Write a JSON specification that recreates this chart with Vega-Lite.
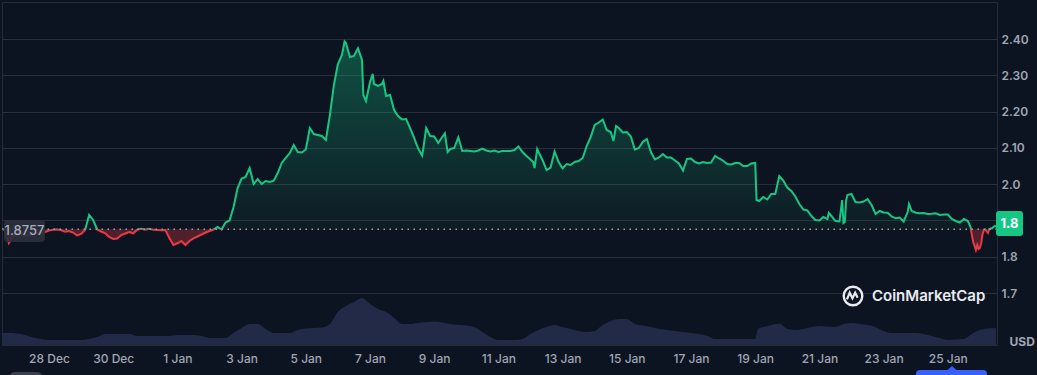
{
  "$schema": "https://vega.github.io/schema/vega-lite/v6.json",
  "width": 995,
  "height": 343,
  "autosize": {"type": "none"},
  "padding": {"left": 2, "top": 2, "right": 40, "bottom": 30},
  "background": "#0d1421",
  "config": {
    "font": "Inter",
    "view": {"stroke": "#262b36", "strokeWidth": 1},
    "axisX": {"labelColor": "#a0a6b4", "labelFontSize": 12, "labelFontWeight": 500, "labelPadding": 8, "domain": false, "ticks": false, "grid": false, "labelFont": "Inter"},
    "axisY": {"labelColor": "#a0a6b4", "labelFontSize": 12, "labelFontWeight": 600, "labelPadding": 4, "domain": false, "ticks": false, "gridColor": "#2a2e39", "gridWidth": 1, "labelFont": "Inter"}
  },
  "datasets": {
    "price": [
      {"date": "2025-12-26T12:00", "price": 1.8778}, {"date": "2025-12-26T15:00", "price": 1.8736}, {"date": "2025-12-26T18:00", "price": 1.8378}, {"date": "2025-12-26T21:00", "price": 1.8571},
      {"date": "2025-12-27T00:00", "price": 1.8598}, {"date": "2025-12-27T03:00", "price": 1.8626}, {"date": "2025-12-27T06:00", "price": 1.8571}, {"date": "2025-12-27T09:00", "price": 1.8598}, {"date": "2025-12-27T12:00", "price": 1.8654}, {"date": "2025-12-27T15:00", "price": 1.8626}, {"date": "2025-12-27T18:00", "price": 1.8654}, {"date": "2025-12-27T21:00", "price": 1.8681},
      {"date": "2025-12-28T00:00", "price": 1.8722}, {"date": "2025-12-28T03:00", "price": 1.8745}, {"date": "2025-12-28T06:00", "price": 1.8748}, {"date": "2025-12-28T09:00", "price": 1.8736}, {"date": "2025-12-28T12:00", "price": 1.8689}, {"date": "2025-12-28T15:00", "price": 1.8709}, {"date": "2025-12-28T18:00", "price": 1.8667}, {"date": "2025-12-28T21:00", "price": 1.8585},
      {"date": "2025-12-29T00:00", "price": 1.8626}, {"date": "2025-12-29T03:00", "price": 1.8736}, {"date": "2025-12-29T06:00", "price": 1.9150}, {"date": "2025-12-29T09:00", "price": 1.9012}, {"date": "2025-12-29T12:00", "price": 1.8750}, {"date": "2025-12-29T15:00", "price": 1.8695}, {"date": "2025-12-29T18:00", "price": 1.8645}, {"date": "2025-12-29T21:00", "price": 1.8543},
      {"date": "2025-12-30T00:00", "price": 1.8488}, {"date": "2025-12-30T03:00", "price": 1.8502}, {"date": "2025-12-30T06:00", "price": 1.8598}, {"date": "2025-12-30T09:00", "price": 1.8640}, {"date": "2025-12-30T12:00", "price": 1.8681}, {"date": "2025-12-30T15:00", "price": 1.8645}, {"date": "2025-12-30T18:00", "price": 1.8745}, {"date": "2025-12-30T21:00", "price": 1.8770},
      {"date": "2025-12-31T00:00", "price": 1.8745}, {"date": "2025-12-31T03:00", "price": 1.8772}, {"date": "2025-12-31T06:00", "price": 1.8740}, {"date": "2025-12-31T09:00", "price": 1.8736}, {"date": "2025-12-31T12:00", "price": 1.8730}, {"date": "2025-12-31T15:00", "price": 1.8736}, {"date": "2025-12-31T18:00", "price": 1.8516}, {"date": "2025-12-31T21:00", "price": 1.8323},
      {"date": "2026-01-01T00:00", "price": 1.8370}, {"date": "2026-01-01T03:00", "price": 1.8433}, {"date": "2026-01-01T06:00", "price": 1.8323}, {"date": "2026-01-01T09:00", "price": 1.8433}, {"date": "2026-01-01T12:00", "price": 1.8507}, {"date": "2026-01-01T15:00", "price": 1.8557}, {"date": "2026-01-01T18:00", "price": 1.8612}, {"date": "2026-01-01T21:00", "price": 1.8667},
      {"date": "2026-01-02T00:00", "price": 1.8709}, {"date": "2026-01-02T03:00", "price": 1.8750}, {"date": "2026-01-02T06:00", "price": 1.8819}, {"date": "2026-01-02T09:00", "price": 1.8750}, {"date": "2026-01-02T12:00", "price": 1.8943}, {"date": "2026-01-02T15:00", "price": 1.8998}, {"date": "2026-01-02T18:00", "price": 1.9370}, {"date": "2026-01-02T21:00", "price": 1.9894},
      {"date": "2026-01-03T00:00", "price": 2.0156}, {"date": "2026-01-03T03:00", "price": 2.0197}, {"date": "2026-01-03T06:00", "price": 2.0445}, {"date": "2026-01-03T09:00", "price": 2.0004}, {"date": "2026-01-03T12:00", "price": 2.0142}, {"date": "2026-01-03T15:00", "price": 2.0004}, {"date": "2026-01-03T18:00", "price": 2.0087}, {"date": "2026-01-03T21:00", "price": 2.0059},
      {"date": "2026-01-04T00:00", "price": 2.0095}, {"date": "2026-01-04T03:00", "price": 2.0307}, {"date": "2026-01-04T06:00", "price": 2.0583}, {"date": "2026-01-04T09:00", "price": 2.0721}, {"date": "2026-01-04T12:00", "price": 2.0858}, {"date": "2026-01-04T15:00", "price": 2.1079}, {"date": "2026-01-04T18:00", "price": 2.0886}, {"date": "2026-01-04T21:00", "price": 2.0872},
      {"date": "2026-01-05T00:00", "price": 2.0955}, {"date": "2026-01-05T03:00", "price": 2.1547}, {"date": "2026-01-05T06:00", "price": 2.1382}, {"date": "2026-01-05T09:00", "price": 2.1354}, {"date": "2026-01-05T12:00", "price": 2.1327}, {"date": "2026-01-05T15:00", "price": 2.1217}, {"date": "2026-01-05T18:00", "price": 2.1906}, {"date": "2026-01-05T21:00", "price": 2.2732},
      {"date": "2026-01-06T00:00", "price": 2.3311}, {"date": "2026-01-06T03:00", "price": 2.3559}, {"date": "2026-01-06T05:00", "price": 2.3931}, {"date": "2026-01-06T06:00", "price": 2.3890}, {"date": "2026-01-06T09:00", "price": 2.3504}, {"date": "2026-01-06T12:00", "price": 2.3532}, {"date": "2026-01-06T15:00", "price": 2.3744}, {"date": "2026-01-06T18:00", "price": 2.3421}, {"date": "2026-01-06T19:00", "price": 2.2457}, {"date": "2026-01-06T21:00", "price": 2.2291},
      {"date": "2026-01-07T00:00", "price": 2.2815}, {"date": "2026-01-07T02:00", "price": 2.3036}, {"date": "2026-01-07T03:00", "price": 2.2760}, {"date": "2026-01-07T06:00", "price": 2.2705}, {"date": "2026-01-07T09:00", "price": 2.2760}, {"date": "2026-01-07T10:00", "price": 2.2843}, {"date": "2026-01-07T12:00", "price": 2.2429}, {"date": "2026-01-07T15:00", "price": 2.2457}, {"date": "2026-01-07T18:00", "price": 2.2043}, {"date": "2026-01-07T21:00", "price": 2.1878},
      {"date": "2026-01-08T00:00", "price": 2.1782}, {"date": "2026-01-08T03:00", "price": 2.1795}, {"date": "2026-01-08T06:00", "price": 2.1547}, {"date": "2026-01-08T09:00", "price": 2.1272}, {"date": "2026-01-08T12:00", "price": 2.0982}, {"date": "2026-01-08T15:00", "price": 2.0789}, {"date": "2026-01-08T16:00", "price": 2.1024}, {"date": "2026-01-08T18:00", "price": 2.1547}, {"date": "2026-01-08T21:00", "price": 2.1327},
      {"date": "2026-01-09T00:00", "price": 2.1313}, {"date": "2026-01-09T03:00", "price": 2.1134}, {"date": "2026-01-09T06:00", "price": 2.1299}, {"date": "2026-01-09T08:00", "price": 2.1401}, {"date": "2026-01-09T10:00", "price": 2.0886}, {"date": "2026-01-09T12:00", "price": 2.0969}, {"date": "2026-01-09T15:00", "price": 2.0996}, {"date": "2026-01-09T18:00", "price": 2.1286}, {"date": "2026-01-09T21:00", "price": 2.0913},
      {"date": "2026-01-10T00:00", "price": 2.0927}, {"date": "2026-01-10T03:00", "price": 2.0913}, {"date": "2026-01-10T06:00", "price": 2.0900}, {"date": "2026-01-10T09:00", "price": 2.0927}, {"date": "2026-01-10T12:00", "price": 2.0982}, {"date": "2026-01-10T15:00", "price": 2.0927}, {"date": "2026-01-10T18:00", "price": 2.0900}, {"date": "2026-01-10T21:00", "price": 2.0927},
      {"date": "2026-01-11T00:00", "price": 2.0886}, {"date": "2026-01-11T03:00", "price": 2.0913}, {"date": "2026-01-11T06:00", "price": 2.0913}, {"date": "2026-01-11T09:00", "price": 2.0913}, {"date": "2026-01-11T12:00", "price": 2.0941}, {"date": "2026-01-11T15:00", "price": 2.1038}, {"date": "2026-01-11T18:00", "price": 2.0886}, {"date": "2026-01-11T21:00", "price": 2.0776},
      {"date": "2026-01-12T00:00", "price": 2.0679}, {"date": "2026-01-12T02:00", "price": 2.0610}, {"date": "2026-01-12T03:00", "price": 2.0445}, {"date": "2026-01-12T05:00", "price": 2.0969}, {"date": "2026-01-12T06:00", "price": 2.0886}, {"date": "2026-01-12T09:00", "price": 2.0665}, {"date": "2026-01-12T12:00", "price": 2.0390}, {"date": "2026-01-12T15:00", "price": 2.0459}, {"date": "2026-01-12T18:00", "price": 2.0900}, {"date": "2026-01-12T21:00", "price": 2.0610},
      {"date": "2026-01-13T00:00", "price": 2.0437}, {"date": "2026-01-13T03:00", "price": 2.0555}, {"date": "2026-01-13T06:00", "price": 2.0528}, {"date": "2026-01-13T09:00", "price": 2.0610}, {"date": "2026-01-13T12:00", "price": 2.0638}, {"date": "2026-01-13T15:00", "price": 2.0721}, {"date": "2026-01-13T18:00", "price": 2.1051}, {"date": "2026-01-13T21:00", "price": 2.1299},
      {"date": "2026-01-14T00:00", "price": 2.1630}, {"date": "2026-01-14T03:00", "price": 2.1699}, {"date": "2026-01-14T06:00", "price": 2.1782}, {"date": "2026-01-14T09:00", "price": 2.1492}, {"date": "2026-01-14T12:00", "price": 2.1437}, {"date": "2026-01-14T14:00", "price": 2.1189}, {"date": "2026-01-14T16:00", "price": 2.1602}, {"date": "2026-01-14T18:00", "price": 2.1547}, {"date": "2026-01-14T21:00", "price": 2.1423},
      {"date": "2026-01-15T00:00", "price": 2.1437}, {"date": "2026-01-15T03:00", "price": 2.1313}, {"date": "2026-01-15T06:00", "price": 2.0955}, {"date": "2026-01-15T09:00", "price": 2.0996}, {"date": "2026-01-15T12:00", "price": 2.1167}, {"date": "2026-01-15T15:00", "price": 2.1244}, {"date": "2026-01-15T18:00", "price": 2.0886}, {"date": "2026-01-15T21:00", "price": 2.0679},
      {"date": "2026-01-16T00:00", "price": 2.0734}, {"date": "2026-01-16T03:00", "price": 2.0831}, {"date": "2026-01-16T06:00", "price": 2.0734}, {"date": "2026-01-16T09:00", "price": 2.0734}, {"date": "2026-01-16T12:00", "price": 2.0652}, {"date": "2026-01-16T15:00", "price": 2.0569}, {"date": "2026-01-16T18:00", "price": 2.0376}, {"date": "2026-01-16T21:00", "price": 2.0693},
      {"date": "2026-01-17T00:00", "price": 2.0707}, {"date": "2026-01-17T03:00", "price": 2.0610}, {"date": "2026-01-17T06:00", "price": 2.0569}, {"date": "2026-01-17T09:00", "price": 2.0610}, {"date": "2026-01-17T12:00", "price": 2.0583}, {"date": "2026-01-17T15:00", "price": 2.0597}, {"date": "2026-01-17T18:00", "price": 2.0776}, {"date": "2026-01-17T21:00", "price": 2.0707},
      {"date": "2026-01-18T00:00", "price": 2.0646}, {"date": "2026-01-18T03:00", "price": 2.0555}, {"date": "2026-01-18T06:00", "price": 2.0541}, {"date": "2026-01-18T09:00", "price": 2.0583}, {"date": "2026-01-18T12:00", "price": 2.0583}, {"date": "2026-01-18T15:00", "price": 2.0500}, {"date": "2026-01-18T18:00", "price": 2.0500}, {"date": "2026-01-18T21:00", "price": 2.0569},
      {"date": "2026-01-19T00:00", "price": 2.0583}, {"date": "2026-01-19T01:00", "price": 1.9563}, {"date": "2026-01-19T03:00", "price": 1.9535}, {"date": "2026-01-19T06:00", "price": 1.9646}, {"date": "2026-01-19T09:00", "price": 1.9577}, {"date": "2026-01-19T12:00", "price": 1.9728}, {"date": "2026-01-19T15:00", "price": 1.9728}, {"date": "2026-01-19T18:00", "price": 2.0224}, {"date": "2026-01-19T21:00", "price": 2.0100},
      {"date": "2026-01-20T00:00", "price": 1.9908}, {"date": "2026-01-20T03:00", "price": 1.9811}, {"date": "2026-01-20T06:00", "price": 1.9660}, {"date": "2026-01-20T09:00", "price": 1.9453}, {"date": "2026-01-20T12:00", "price": 1.9301}, {"date": "2026-01-20T15:00", "price": 1.9274}, {"date": "2026-01-20T18:00", "price": 1.9122}, {"date": "2026-01-20T21:00", "price": 1.9012},
      {"date": "2026-01-21T00:00", "price": 1.8998}, {"date": "2026-01-21T03:00", "price": 1.9095}, {"date": "2026-01-21T06:00", "price": 1.9039}, {"date": "2026-01-21T07:00", "price": 1.9205}, {"date": "2026-01-21T09:00", "price": 1.9122}, {"date": "2026-01-21T12:00", "price": 1.8984}, {"date": "2026-01-21T15:00", "price": 1.8971}, {"date": "2026-01-21T17:00", "price": 1.9563}, {"date": "2026-01-21T18:00", "price": 1.8929}, {"date": "2026-01-21T19:00", "price": 1.8957}, {"date": "2026-01-21T20:00", "price": 1.9563}, {"date": "2026-01-21T21:00", "price": 1.9701},
      {"date": "2026-01-22T00:00", "price": 1.9728}, {"date": "2026-01-22T03:00", "price": 1.9508}, {"date": "2026-01-22T06:00", "price": 1.9494}, {"date": "2026-01-22T09:00", "price": 1.9522}, {"date": "2026-01-22T12:00", "price": 1.9591}, {"date": "2026-01-22T15:00", "price": 1.9425}, {"date": "2026-01-22T18:00", "price": 1.9177}, {"date": "2026-01-22T21:00", "price": 1.9260},
      {"date": "2026-01-23T00:00", "price": 1.9219}, {"date": "2026-01-23T03:00", "price": 1.9213}, {"date": "2026-01-23T06:00", "price": 1.9108}, {"date": "2026-01-23T09:00", "price": 1.9059}, {"date": "2026-01-23T12:00", "price": 1.9081}, {"date": "2026-01-23T15:00", "price": 1.8971}, {"date": "2026-01-23T18:00", "price": 1.9232}, {"date": "2026-01-23T19:00", "price": 1.9453}, {"date": "2026-01-23T21:00", "price": 1.9260},
      {"date": "2026-01-24T00:00", "price": 1.9213}, {"date": "2026-01-24T03:00", "price": 1.9197}, {"date": "2026-01-24T06:00", "price": 1.9205}, {"date": "2026-01-24T09:00", "price": 1.9177}, {"date": "2026-01-24T12:00", "price": 1.9183}, {"date": "2026-01-24T15:00", "price": 1.9197}, {"date": "2026-01-24T18:00", "price": 1.9150}, {"date": "2026-01-24T21:00", "price": 1.9163},
      {"date": "2026-01-25T00:00", "price": 1.9163}, {"date": "2026-01-25T03:00", "price": 1.9039}, {"date": "2026-01-25T06:00", "price": 1.8984}, {"date": "2026-01-25T09:00", "price": 1.8943}, {"date": "2026-01-25T12:00", "price": 1.9039}, {"date": "2026-01-25T15:00", "price": 1.8984}, {"date": "2026-01-25T17:00", "price": 1.8819}, {"date": "2026-01-25T18:00", "price": 1.8598}, {"date": "2026-01-25T19:00", "price": 1.8406}, {"date": "2026-01-25T20:00", "price": 1.8295}, {"date": "2026-01-25T21:00", "price": 1.8185}, {"date": "2026-01-25T22:00", "price": 1.8323}, {"date": "2026-01-25T23:00", "price": 1.8213},
      {"date": "2026-01-26T00:00", "price": 1.8240}, {"date": "2026-01-26T01:00", "price": 1.8378}, {"date": "2026-01-26T02:00", "price": 1.8626}, {"date": "2026-01-26T03:00", "price": 1.8736}, {"date": "2026-01-26T04:00", "price": 1.8750}, {"date": "2026-01-26T06:00", "price": 1.8654}, {"date": "2026-01-26T07:00", "price": 1.8764}, {"date": "2026-01-26T09:00", "price": 1.8783}, {"date": "2026-01-26T11:00", "price": 1.8846}, {"date": "2026-01-26T12:00", "price": 1.8833}
    ],
    "volume": [
      {"date": "2025-12-26T12:00", "vol": 12}, {"date": "2025-12-26T18:00", "vol": 12},
      {"date": "2025-12-27T00:00", "vol": 11.5}, {"date": "2025-12-27T06:00", "vol": 10}, {"date": "2025-12-27T12:00", "vol": 7.5}, {"date": "2025-12-27T18:00", "vol": 6},
      {"date": "2025-12-28T00:00", "vol": 5}, {"date": "2025-12-28T06:00", "vol": 5}, {"date": "2025-12-28T12:00", "vol": 5}, {"date": "2025-12-28T18:00", "vol": 5},
      {"date": "2025-12-29T00:00", "vol": 5}, {"date": "2025-12-29T06:00", "vol": 6}, {"date": "2025-12-29T12:00", "vol": 8}, {"date": "2025-12-29T18:00", "vol": 11},
      {"date": "2025-12-30T00:00", "vol": 11}, {"date": "2025-12-30T06:00", "vol": 11}, {"date": "2025-12-30T12:00", "vol": 11}, {"date": "2025-12-30T18:00", "vol": 9},
      {"date": "2025-12-31T00:00", "vol": 9}, {"date": "2025-12-31T06:00", "vol": 9}, {"date": "2025-12-31T12:00", "vol": 9}, {"date": "2025-12-31T18:00", "vol": 9},
      {"date": "2026-01-01T00:00", "vol": 10}, {"date": "2026-01-01T06:00", "vol": 10}, {"date": "2026-01-01T12:00", "vol": 10}, {"date": "2026-01-01T18:00", "vol": 9},
      {"date": "2026-01-02T00:00", "vol": 7}, {"date": "2026-01-02T06:00", "vol": 7}, {"date": "2026-01-02T12:00", "vol": 7}, {"date": "2026-01-02T18:00", "vol": 12},
      {"date": "2026-01-03T00:00", "vol": 17}, {"date": "2026-01-03T06:00", "vol": 21}, {"date": "2026-01-03T12:00", "vol": 21}, {"date": "2026-01-03T18:00", "vol": 16},
      {"date": "2026-01-04T00:00", "vol": 12}, {"date": "2026-01-04T06:00", "vol": 12}, {"date": "2026-01-04T12:00", "vol": 12}, {"date": "2026-01-04T18:00", "vol": 15},
      {"date": "2026-01-05T00:00", "vol": 16.5}, {"date": "2026-01-05T06:00", "vol": 17}, {"date": "2026-01-05T12:00", "vol": 17.5}, {"date": "2026-01-05T18:00", "vol": 21},
      {"date": "2026-01-06T00:00", "vol": 33}, {"date": "2026-01-06T06:00", "vol": 39}, {"date": "2026-01-06T12:00", "vol": 43}, {"date": "2026-01-06T18:00", "vol": 47},
      {"date": "2026-01-07T00:00", "vol": 41}, {"date": "2026-01-07T06:00", "vol": 36}, {"date": "2026-01-07T12:00", "vol": 33}, {"date": "2026-01-07T18:00", "vol": 27},
      {"date": "2026-01-08T00:00", "vol": 21}, {"date": "2026-01-08T06:00", "vol": 21}, {"date": "2026-01-08T12:00", "vol": 22}, {"date": "2026-01-08T18:00", "vol": 23},
      {"date": "2026-01-09T00:00", "vol": 23.5}, {"date": "2026-01-09T06:00", "vol": 22.5}, {"date": "2026-01-09T12:00", "vol": 21}, {"date": "2026-01-09T18:00", "vol": 20},
      {"date": "2026-01-10T00:00", "vol": 19.5}, {"date": "2026-01-10T06:00", "vol": 18}, {"date": "2026-01-10T12:00", "vol": 13}, {"date": "2026-01-10T18:00", "vol": 8},
      {"date": "2026-01-11T00:00", "vol": 5}, {"date": "2026-01-11T06:00", "vol": 5}, {"date": "2026-01-11T12:00", "vol": 5}, {"date": "2026-01-11T18:00", "vol": 6},
      {"date": "2026-01-12T00:00", "vol": 11}, {"date": "2026-01-12T06:00", "vol": 15}, {"date": "2026-01-12T12:00", "vol": 18}, {"date": "2026-01-12T18:00", "vol": 20},
      {"date": "2026-01-13T00:00", "vol": 18}, {"date": "2026-01-13T06:00", "vol": 16}, {"date": "2026-01-13T12:00", "vol": 14}, {"date": "2026-01-13T18:00", "vol": 13},
      {"date": "2026-01-14T00:00", "vol": 14}, {"date": "2026-01-14T06:00", "vol": 20}, {"date": "2026-01-14T12:00", "vol": 24}, {"date": "2026-01-14T18:00", "vol": 26},
      {"date": "2026-01-15T00:00", "vol": 26}, {"date": "2026-01-15T06:00", "vol": 21}, {"date": "2026-01-15T12:00", "vol": 19.5}, {"date": "2026-01-15T18:00", "vol": 18},
      {"date": "2026-01-16T00:00", "vol": 16}, {"date": "2026-01-16T06:00", "vol": 15}, {"date": "2026-01-16T12:00", "vol": 14}, {"date": "2026-01-16T18:00", "vol": 13},
      {"date": "2026-01-17T00:00", "vol": 12}, {"date": "2026-01-17T06:00", "vol": 11}, {"date": "2026-01-17T12:00", "vol": 9}, {"date": "2026-01-17T18:00", "vol": 6},
      {"date": "2026-01-18T00:00", "vol": 6}, {"date": "2026-01-18T06:00", "vol": 6}, {"date": "2026-01-18T12:00", "vol": 6}, {"date": "2026-01-18T18:00", "vol": 6},
      {"date": "2026-01-19T00:00", "vol": 6}, {"date": "2026-01-19T02:00", "vol": 16}, {"date": "2026-01-19T06:00", "vol": 18}, {"date": "2026-01-19T12:00", "vol": 20}, {"date": "2026-01-19T18:00", "vol": 21.5},
      {"date": "2026-01-20T00:00", "vol": 16}, {"date": "2026-01-20T06:00", "vol": 15}, {"date": "2026-01-20T12:00", "vol": 16}, {"date": "2026-01-20T18:00", "vol": 18},
      {"date": "2026-01-21T00:00", "vol": 19}, {"date": "2026-01-21T06:00", "vol": 18.5}, {"date": "2026-01-21T12:00", "vol": 18}, {"date": "2026-01-21T18:00", "vol": 21},
      {"date": "2026-01-22T00:00", "vol": 22}, {"date": "2026-01-22T06:00", "vol": 21}, {"date": "2026-01-22T12:00", "vol": 20}, {"date": "2026-01-22T18:00", "vol": 18},
      {"date": "2026-01-23T00:00", "vol": 14}, {"date": "2026-01-23T06:00", "vol": 12}, {"date": "2026-01-23T12:00", "vol": 12}, {"date": "2026-01-23T18:00", "vol": 12},
      {"date": "2026-01-24T00:00", "vol": 12}, {"date": "2026-01-24T06:00", "vol": 11}, {"date": "2026-01-24T12:00", "vol": 9}, {"date": "2026-01-24T18:00", "vol": 7},
      {"date": "2026-01-25T00:00", "vol": 5}, {"date": "2026-01-25T06:00", "vol": 5.5}, {"date": "2026-01-25T12:00", "vol": 6}, {"date": "2026-01-25T18:00", "vol": 11},
      {"date": "2026-01-26T00:00", "vol": 15}, {"date": "2026-01-26T06:00", "vol": 16.5}, {"date": "2026-01-26T12:00", "vol": 17}
    ]
  },
  "layer": [
    {
      "data": {"name": "volume"},
      "mark": {"type": "area", "color": "#222a48", "interpolate": "monotone", "clip": true},
      "encoding": {
        "x": {"field": "date", "type": "temporal",
          "scale": {"domain": [{"year": 2025, "month": 12, "date": 26, "hours": 12, "minutes": 51}, {"year": 2026, "month": 1, "date": 26, "hours": 12, "minutes": 47}]},
          "axis": {"title": null, "format": "%-d %b", "values": [
            {"year": 2025, "month": 12, "date": 28}, {"year": 2025, "month": 12, "date": 30}, {"year": 2026, "month": 1, "date": 1}, {"year": 2026, "month": 1, "date": 3}, {"year": 2026, "month": 1, "date": 5}, {"year": 2026, "month": 1, "date": 7}, {"year": 2026, "month": 1, "date": 9}, {"year": 2026, "month": 1, "date": 11}, {"year": 2026, "month": 1, "date": 13}, {"year": 2026, "month": 1, "date": 15}, {"year": 2026, "month": 1, "date": 17}, {"year": 2026, "month": 1, "date": 19}, {"year": 2026, "month": 1, "date": 21}, {"year": 2026, "month": 1, "date": 23}, {"year": 2026, "month": 1, "date": 25}]}},
        "y": {"field": "vol", "type": "quantitative", "scale": {"domain": [0, 343], "nice": false}, "axis": null}
      }
    },
    {
      "layer": [
        {
          "data": {"name": "price"},
          "encoding": {
            "x": {"field": "date", "type": "temporal",
              "scale": {"domain": [{"year": 2025, "month": 12, "date": 26, "hours": 12, "minutes": 51}, {"year": 2026, "month": 1, "date": 26, "hours": 12, "minutes": 47}]},
              "axis": {"title": null, "format": "%-d %b", "values": [
                {"year": 2025, "month": 12, "date": 28}, {"year": 2025, "month": 12, "date": 30}, {"year": 2026, "month": 1, "date": 1}, {"year": 2026, "month": 1, "date": 3}, {"year": 2026, "month": 1, "date": 5}, {"year": 2026, "month": 1, "date": 7}, {"year": 2026, "month": 1, "date": 9}, {"year": 2026, "month": 1, "date": 11}, {"year": 2026, "month": 1, "date": 13}, {"year": 2026, "month": 1, "date": 15}, {"year": 2026, "month": 1, "date": 17}, {"year": 2026, "month": 1, "date": 19}, {"year": 2026, "month": 1, "date": 21}, {"year": 2026, "month": 1, "date": 23}, {"year": 2026, "month": 1, "date": 25}]}},
            "y": {"field": "price", "type": "quantitative",
              "scale": {"domain": [1.5567, 2.502], "nice": false, "zero": false},
              "axis": {"orient": "right", "grid": true, "values": [1.7, 1.8, 1.9, 2.0, 2.1, 2.2, 2.3, 2.4],
                "labelExpr": "datum.value > 1.85 && datum.value < 1.95 ? '' : (datum.value >= 2.05 ? format(datum.value, '.2f') : format(datum.value, '.1f'))",
                "title": "USD", "titleAngle": 0, "titleAlign": "left", "titleBaseline": "middle", "titleX": 12, "titleY": 339, "titleColor": "#a0a6b4", "titleFontSize": 12, "titleFontWeight": 700, "titleFont": "Inter"}}
          },
          "layer": [
            {
              "mark": {"type": "area", "clip": true, "interpolate": "linear",
                "fill": {"gradient": "linear", "x1": 0, "y1": 0, "x2": 0, "y2": 1, "stops": [
                  {"offset": 0, "color": "rgba(22,199,132,0.34)"},
                  {"offset": 0.9, "color": "rgba(22,199,132,0.04)"},
                  {"offset": 0.9005, "color": "rgba(234,57,67,0.30)"},
                  {"offset": 1, "color": "rgba(234,57,67,0.32)"}]}},
              "encoding": {"y2": {"datum": 1.8757}}
            },
            {
              "mark": {"type": "line", "clip": true, "interpolate": "linear", "strokeWidth": 2,
                "stroke": {"gradient": "linear", "x1": 0, "y1": 0, "x2": 0, "y2": 1, "stops": [
                  {"offset": 0, "color": "#16c784"},
                  {"offset": 0.9004, "color": "#16c784"},
                  {"offset": 0.9005, "color": "#ea3943"},
                  {"offset": 1, "color": "#ea3943"}]}}
            }
          ]
        },
        {
          "data": {"values": [{}]},
          "mark": {"type": "rule", "color": "#9aa1ae", "strokeWidth": 1.3, "strokeDash": [1.5, 4.5]},
          "encoding": {"y": {"datum": 1.8757}}
        },
        {
          "data": {"values": [{}]},
          "mark": {"type": "point", "shape": "M0.54,-1 L3.55,-1 Q3.91,-1 3.91,-0.64 L3.91,0.64 Q3.91,1 3.55,1 L0.54,1 Q0.18,1 0.18,0.64 L0.18,-0.64 Q0.18,-1 0.54,-1 Z", "size": 484, "filled": true, "fill": "#2b303c", "opacity": 0.92, "strokeWidth": 0},
          "encoding": {"x": {"datum": {"year": 2025, "month": 12, "date": 26, "hours": 12, "minutes": 51}, "type": "temporal"}, "y": {"datum": 1.8712}}
        },
        {
          "data": {"values": [{}]},
          "mark": {"type": "text", "text": "1.8757", "dx": 22.5, "align": "center", "baseline": "middle", "color": "#a6adbd", "fontSize": 13, "fontWeight": 500, "font": "Inter"},
          "encoding": {"x": {"datum": {"year": 2025, "month": 12, "date": 26, "hours": 12, "minutes": 51}, "type": "temporal"}, "y": {"datum": 1.8712}}
        },
        {
          "data": {"values": [{}]},
          "mark": {"type": "point", "shape": "M0.16,-1 L1.84,-1 Q2.08,-1 2.08,-0.76 L2.08,0.76 Q2.08,1 1.84,1 L0.16,1 Q-0.08,1 -0.08,0.76 L-0.08,-0.76 Q-0.08,-1 0.16,-1 Z", "size": 625, "filled": true, "fill": "#16c784", "opacity": 1, "strokeWidth": 0},
          "encoding": {"x": {"datum": {"year": 2026, "month": 1, "date": 26, "hours": 12, "minutes": 47}, "type": "temporal"}, "y": {"datum": 1.8915}}
        },
        {
          "data": {"values": [{}]},
          "mark": {"type": "text", "text": "1.8", "dx": 12.5, "align": "center", "baseline": "middle", "color": "#ffffff", "fontSize": 13, "fontWeight": 700, "font": "Inter"},
          "encoding": {"x": {"datum": {"year": 2026, "month": 1, "date": 26, "hours": 12, "minutes": 47}, "type": "temporal"}, "y": {"datum": 1.8915}}
        },
        {
          "data": {"values": [{}]},
          "mark": {"type": "text", "text": "CoinMarketCap", "align": "left", "baseline": "middle", "color": "#e9ebf0", "fontSize": 15, "fontWeight": 600, "font": "Inter"},
          "encoding": {"x": {"datum": {"year": 2026, "month": 1, "date": 22, "hours": 15, "minutes": 20}, "type": "temporal"}, "y": {"datum": 1.6917}}
        },
        {
          "data": {"values": [{}]},
          "mark": {"type": "point", "shape": "circle", "size": 346, "filled": false, "stroke": "#e9ebf0", "strokeWidth": 2.4, "opacity": 1},
          "encoding": {"x": {"datum": {"year": 2026, "month": 1, "date": 22, "hours": 1, "minutes": 7}, "type": "temporal"}, "y": {"datum": 1.6917}}
        },
        {
          "data": {"values": [{}]},
          "mark": {"type": "point", "shape": "M-0.55,0.3 L-0.3,-0.3 L-0.05,0.2 L0.2,-0.3 L0.42,0.15", "size": 484, "filled": false, "stroke": "#e9ebf0", "strokeWidth": 2.2, "opacity": 1},
          "encoding": {"x": {"datum": {"year": 2026, "month": 1, "date": 22, "hours": 1, "minutes": 7}, "type": "temporal"}, "y": {"datum": 1.6917}}
        },
        {
          "data": {"values": [{}]},
          "mark": {"type": "point", "shape": "M-3.2,0.4 Q-3.6,0.4 -3.6,0.8 L-3.6,1.4 L3.5,1.4 L3.5,0.8 Q3.5,0.4 3.1,0.4 L0.45,0.4 L0,0 L-0.45,0.4 Z", "size": 400, "filled": true, "fill": "#3861fb", "opacity": 1, "strokeWidth": 0},
          "encoding": {"x": {"datum": {"year": 2026, "month": 1, "date": 25, "hours": 3, "minutes": 8}, "type": "temporal"}, "y": {"datum": 1.4988}}
        },
        {
          "data": {"values": [{}]},
          "mark": {"type": "point", "shape": "M-1.1,0 L1.1,0 Q1.6,0 1.6,0.5 L1.6,1 L-1.6,1 L-1.6,0.5 Q-1.6,0 -1.1,0 Z", "size": 400, "filled": true, "fill": "#3b404c", "opacity": 1, "strokeWidth": 0},
          "encoding": {"x": {"datum": {"year": 2025, "month": 12, "date": 27, "hours": 6, "minutes": 48}, "type": "temporal"}, "y": {"datum": 1.4823}}
        }
      ]
    }
  ],
  "resolve": {"scale": {"y": "independent"}}
}
